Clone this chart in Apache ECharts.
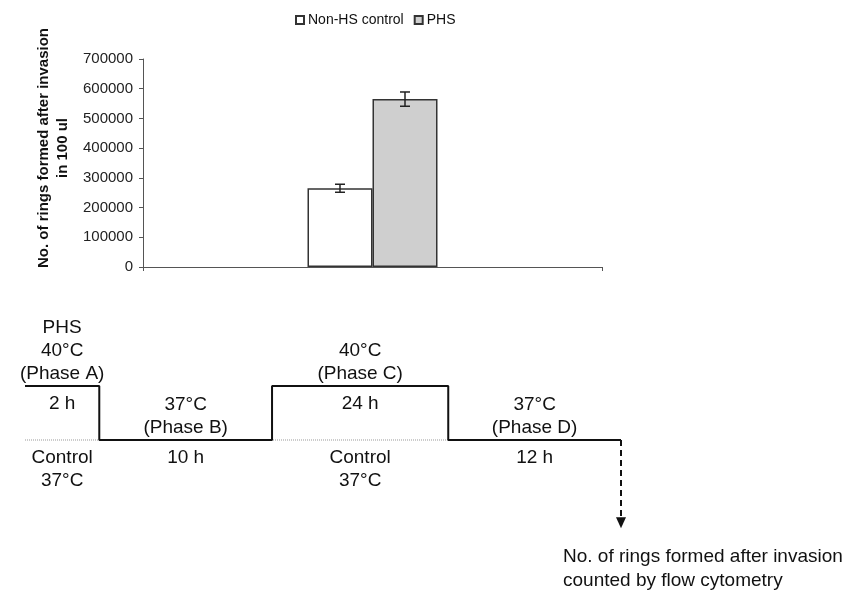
<!DOCTYPE html>
<html>
<head>
<meta charset="utf-8">
<script src="https://cdn.jsdelivr.net/npm/echarts@6/dist/echarts.min.js"></script>
<style>
  html, body { margin: 0; padding: 0; background: #fff; }
  #main { width: 864px; height: 601px; }
</style>
</head>
<body>
<div id="main"></div>
<script>
// bar chart data
const barCategory = ['']
const seriesNames = ['Non-HS control', 'PHS']
const ringCounts = [265000, 565000]
const ringErrors = [13500, 24000]
const barColors = ['#ffffff', '#cfcfcf']

// heat shock protocol (schematic, widths are not proportional to time)
const phaseTitle = ['PHS\n40°C\n(Phase A)', '37°C\n(Phase B)', '40°C\n(Phase C)', '37°C\n(Phase D)']
const phaseTemps = [40, 37, 40, 37]
const phaseHours = ['2 h', '10 h', '24 h', '12 h']
const phaseSpan = [0.43, 1, 1.02, 1]
const controlNote = ['Control\n37°C', '', 'Control\n37°C', '']
const controlTemp = 37
const arrowEnd = 32.4

const font = "'Liberation Sans', Arial, sans-serif"
const ink = '#111'
const barW = 65

// build step line from phases
let starts = []
let acc = 0
phaseSpan.forEach(w => { starts.push(acc); acc += w })
const xEnd = acc
let stepData = []
phaseTemps.forEach((t, i) => {
  stepData.push([starts[i], t], [starts[i] + phaseSpan[i], t])
})
const mids = starts.map((s, i) => s + phaseSpan[i] / 2)

const titleLabels = phaseTitle.map((t, i) => ({ value: [mids[i], phaseTemps[i]], name: t }))
const hourLabels = phaseHours.map((t, i) => ({ value: [mids[i], phaseTemps[i]], name: t }))
const controlLabels = controlNote.map((t, i) => ({ value: [mids[i], controlTemp], name: t })).filter(d => d.name)

function labelSeries(data, position, distance) {
  return {
    type: 'scatter',
    xAxisIndex: 1,
    yAxisIndex: 1,
    symbolSize: 0,
    itemStyle: { color: ink, opacity: 1 },
    silent: true,
    data: data,
    label: {
      show: true,
      position: position,
      distance: distance,
      formatter: p => p.name,
      fontFamily: font,
      fontSize: 19,
      lineHeight: 23,
      color: ink,
      opacity: 1,
      textBorderWidth: 0
    }
  }
}

const myChart = echarts.init(document.getElementById('main'))
const option = {
  animation: false,
  textStyle: { fontFamily: font },
  legend: {
    data: seriesNames,
    left: 290,
    top: 8,
    itemWidth: 8,
    itemHeight: 8,
    itemGap: 10,
    icon: 'rect',
    textStyle: { fontSize: 14, color: ink, fontFamily: font, padding: [0, 0, 0, -1] }
  },
  grid: [
    { left: 143, right: 262, top: 59, height: 208 },
    { left: 25, width: 596, top: 296, height: 270 }
  ],
  xAxis: [
    {
      type: 'category',
      gridIndex: 0,
      data: barCategory,
      axisLine: { lineStyle: { color: '#555', width: 1 } },
      axisTick: { show: true, length: 4, lineStyle: { color: '#555' } },
      axisLabel: { show: false }
    },
    {
      type: 'value',
      gridIndex: 1,
      min: 0,
      max: xEnd,
      show: false
    }
  ],
  yAxis: [
    {
      type: 'value',
      gridIndex: 0,
      min: 0,
      max: 700000,
      interval: 100000,
      name: 'No. of rings formed after invasion\nin 100 ul',
      nameLocation: 'middle',
      nameGap: 68,
      nameTextStyle: {
        fontFamily: font,
        fontWeight: 'bold',
        fontSize: 15,
        lineHeight: 19,
        color: ink,
        padding: [0, 0, 0, 30]
      },
      axisLine: { show: true, lineStyle: { color: '#555', width: 1 } },
      axisTick: { show: true, length: 4, lineStyle: { color: '#555' } },
      axisLabel: { fontSize: 15, color: '#222', margin: 10, fontFamily: font, formatter: v => String(v) },
      splitLine: { show: false }
    },
    {
      type: 'value',
      gridIndex: 1,
      min: 30,
      max: 45,
      show: false
    }
  ],
  series: [
    {
      name: seriesNames[0],
      type: 'bar',
      barWidth: barW,
      barGap: '0%',
      data: [ringCounts[0]],
      itemStyle: { color: barColors[0], borderColor: '#333', borderWidth: 1.5 }
    },
    {
      name: seriesNames[1],
      type: 'bar',
      barWidth: barW,
      barGap: '0%',
      data: [ringCounts[1]],
      itemStyle: { color: barColors[1], borderColor: '#333', borderWidth: 1.5 }
    },
    {
      // error bars
      type: 'custom',
      xAxisIndex: 0,
      yAxisIndex: 0,
      silent: true,
      z: 5,
      data: ringCounts.map((v, i) => [0, v, ringErrors[i], i]),
      renderItem: (params, api) => {
        const idx = api.value(3)
        const off = (idx === 0 ? -1 : 1) * barW / 2
        const lo = api.coord([api.value(0), api.value(1) - api.value(2)])
        const hi = api.coord([api.value(0), api.value(1) + api.value(2)])
        const x = lo[0] + off
        const cap = 5
        const style = { stroke: '#222', lineWidth: 1.5 }
        return {
          type: 'group',
          children: [
            { type: 'line', shape: { x1: x, y1: lo[1], x2: x, y2: hi[1] }, style },
            { type: 'line', shape: { x1: x - cap, y1: lo[1], x2: x + cap, y2: lo[1] }, style },
            { type: 'line', shape: { x1: x - cap, y1: hi[1], x2: x + cap, y2: hi[1] }, style }
          ]
        }
      }
    },
    {
      // control baseline (dotted)
      type: 'line',
      xAxisIndex: 1,
      yAxisIndex: 1,
      silent: true,
      symbol: 'none',
      z: 1,
      data: [[0, controlTemp], [xEnd, controlTemp]],
      lineStyle: { color: '#999', width: 1, type: 'dotted' }
    },
    {
      // PHS temperature profile
      type: 'line',
      xAxisIndex: 1,
      yAxisIndex: 1,
      silent: true,
      symbol: 'none',
      z: 3,
      data: stepData,
      lineStyle: { color: ink, width: 2 }
    },
    {
      // arrow to readout
      type: 'line',
      xAxisIndex: 1,
      yAxisIndex: 1,
      silent: true,
      z: 3,
      showSymbol: true,
      symbol: 'none',
      data: [
        { value: [xEnd, phaseTemps[phaseTemps.length - 1]] },
        { value: [xEnd, arrowEnd], symbol: 'triangle', symbolSize: [10, 11], symbolRotate: 180 }
      ],
      itemStyle: { color: ink },
      lineStyle: { color: ink, width: 2, type: [6, 4] }
    },
    labelSeries(titleLabels, 'top', 1),
    labelSeries(hourLabels, 'bottom', 6),
    labelSeries(controlLabels, 'bottom', 6)
  ],
  graphic: [
    {
      type: 'text',
      left: 563,
      top: 545,
      silent: true,
      style: {
        text: 'No. of rings formed after invasion\ncounted by flow cytometry',
        font: '19px ' + font,
        lineHeight: 24,
        fill: ink
      }
    }
  ]
}
option && myChart.setOption(option)
</script>
</body>
</html>
